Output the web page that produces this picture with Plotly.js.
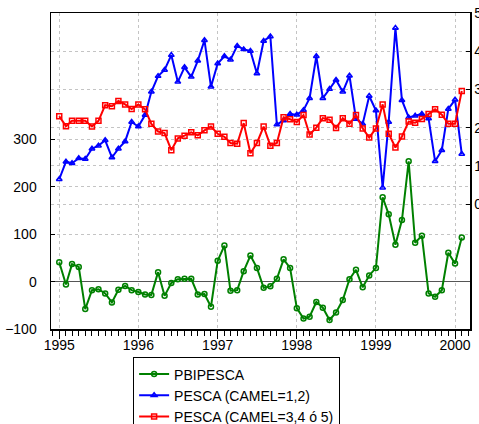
<!DOCTYPE html>
<html>
<head>
<meta charset="utf-8">
<script src="https://cdn.plot.ly/plotly-3.0.1.min.js"></script>
<style>
  html, body { margin: 0; padding: 0; background: #fff; }
  #chart { width: 479px; height: 424px; }
</style>
</head>
<body>
<div id="chart"></div>
<script>
// monthly series, Jan 1995 .. Feb 2000
const startYear = 1995;
const nMonths = 62;

const pbiPesca = [
  41, -6, 37, 31, -58, -18, -16, -25, -44, -17, -9, -18,
  -22, -27, -28, 20, -30, -3, 5, 6, 6, -27, -26, -53,
  44, 76, -19, -18, 22, 55, 29, -13, -10, 6, 47, 29,
  -56, -78, -74, -43, -55, -81, -65, -39, 5, 25, -12, 13,
  29, 178, 142, 78, 130, 254, 82, 97, -25, -32, -18, 61,
  38, 93,
];

const pescaCamel12 = [
  0.65, 1.11, 1.07, 1.20, 1.18, 1.45, 1.53, 1.67, 1.22, 1.45, 1.64, 2.15,
  2.03, 2.33, 2.94, 3.35, 3.51, 3.90, 3.20, 3.58, 3.33, 3.75, 4.29, 3.07,
  3.68, 3.87, 3.78, 4.14, 4.05, 4.01, 3.42, 4.27, 4.39, 2.08, 2.19, 2.36,
  2.34, 2.46, 2.77, 3.87, 2.77, 3.01, 3.25, 2.94, 3.36, 2.23, 2.10, 2.83,
  2.45, 0.43, 2.15, 4.61, 2.72, 2.27, 2.31, 2.36, 2.24, 1.12, 1.41, 2.49,
  2.73, 1.31,
];

const pescaCamel345 = [
  2.30, 2.04, 2.18, 2.18, 2.18, 2.03, 2.18, 2.59, 2.56, 2.70, 2.61, 2.49,
  2.61, 2.48, 2.10, 1.90, 1.86, 1.41, 1.72, 1.79, 1.88, 1.80, 1.93, 2.03,
  1.84, 1.76, 1.60, 1.58, 2.12, 1.33, 1.60, 2.03, 1.53, 1.60, 2.27, 2.22,
  2.15, 2.33, 1.82, 2.00, 2.25, 2.21, 1.99, 2.25, 2.10, 2.33, 1.98, 1.74,
  1.98, 2.61, 1.84, 1.48, 1.77, 2.16, 2.13, 2.23, 2.36, 2.48, 2.34, 2.10,
  2.10, 2.96,
];

const leftTicks = [-100, 0, 100, 200, 300];
const rightTicks = [0, 1, 2, 3, 4, 5];

const seriesNames = ['PBIPESCA', 'PESCA (CAMEL=1,2)', 'PESCA (CAMEL=3,4 ó 5)'];

const months = [];
for (let i = 0; i < nMonths; i++) {
  const y = startYear + Math.floor(i / 12);
  const m = (i % 12) + 1;
  months.push(y + '-' + String(m).padStart(2, '0') + '-01');
}

const font = {family: 'Liberation Sans, Arial, sans-serif', size: 14, color: '#000'};
const gridColor = '#c4c4c4';

const traces = [
  {
    x: months, y: pbiPesca, name: seriesNames[0],
    type: 'scatter', mode: 'lines+markers', yaxis: 'y',
    line: {color: '#008000', width: 2},
    marker: {symbol: 'circle-open', size: 5, color: '#008000', line: {width: 1.5}},
  },
  {
    x: months, y: pescaCamel12, name: seriesNames[1],
    type: 'scatter', mode: 'lines+markers', yaxis: 'y2',
    line: {color: '#0000ff', width: 2},
    marker: {symbol: 'triangle-up-open', size: 5, color: '#0000ff', line: {width: 1.5}},
  },
  {
    x: months, y: pescaCamel345, name: seriesNames[2],
    type: 'scatter', mode: 'lines+markers', yaxis: 'y2',
    line: {color: '#ff0000', width: 2},
    marker: {symbol: 'square-open', size: 5, color: '#ff0000', line: {width: 1.5}},
  },
];

const layout = {
  width: 479,
  height: 424,
  margin: {l: 51, r: 9, t: 13, b: 95, autoexpand: false},
  paper_bgcolor: '#fff',
  plot_bgcolor: '#fff',
  font: font,
  showlegend: true,
  legend: {
    x: 0.196, y: -0.09, xanchor: 'left', yanchor: 'top',
    bordercolor: '#000', borderwidth: 1, bgcolor: '#fff',
    font: font,
  },
  xaxis: {
    type: 'date',
    range: ['1994-11-24', '2000-03-10'],
    dtick: 'M12',
    tick0: '1995-01-01',
    tickformat: '%Y',
    ticks: 'outside', ticklen: 8, tickcolor: '#000',
    ticklabelstandoff: -5,
    minor: {dtick: 'M1', tick0: '1995-01-01', ticks: 'outside', ticklen: 5,
      tickcolor: '#000', showgrid: false},
    showline: true, mirror: true, linecolor: '#000', linewidth: 1.5,
    showgrid: true, gridcolor: gridColor, griddash: '3px,3px',
    zeroline: false,
  },
  yaxis: {
    range: [-100, 567],
    tickvals: leftTicks,
    ticks: 'inside', ticklen: 4, tickcolor: '#000',
    ticklabelstandoff: 10,
    showline: true, linecolor: '#000', linewidth: 1.5,
    showgrid: true, gridcolor: gridColor, griddash: '3px,3px',
    zeroline: true, zerolinecolor: '#555', zerolinewidth: 1.5,
  },
  yaxis2: {
    overlaying: 'y', side: 'right',
    range: [-3.27, 5.002],
    tickvals: rightTicks,
    ticks: 'inside', ticklen: 4, tickcolor: '#000',
    showline: true, linecolor: '#000', linewidth: 1.5,
    showgrid: true, gridcolor: gridColor, griddash: '3px,3px',
    zeroline: false,
  },
};

Plotly.newPlot('chart', traces, layout, {displayModeBar: false, staticPlot: true});
</script>
</body>
</html>
